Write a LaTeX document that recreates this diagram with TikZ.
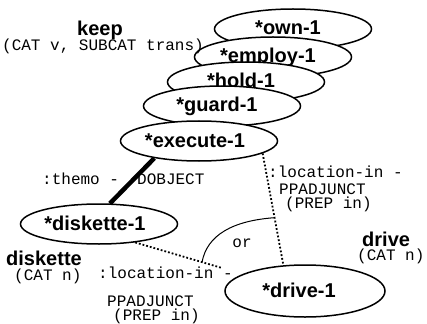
\documentclass[tikz,border=0pt]{standalone}
\usepackage{fontspec}
\setmainfont{Liberation Sans}
\newfontfamily\featfont{Liberation Mono}
\usetikzlibrary{shapes.geometric}
\tikzset{
  sense/.style={ellipse, draw, line width=1.5pt, fill=white,
    minimum width=157pt, minimum height=40pt, inner sep=0pt,
    font=\fontsize{20}{22}\selectfont\bfseries, text height=14pt, text depth=2pt},
  lex/.style={font=\fontsize{20}{22}\selectfont\bfseries, inner sep=0pt},
  feat/.style={font=\fontsize{16}{18}\selectfont\featfont, inner sep=0pt},
  dotlink/.style={dotted, line width=1.8pt},
  rolelink/.style={line width=4.5pt},
  orlink/.style={line width=1pt},
}
\begin{document}
\begin{tikzpicture}[x=1pt,y=-1pt]
\useasboundingbox (0,0) rectangle (427,323);
% stacked senses of "keep", back to front
\node[sense] (own) at (293,29) {*own-1\kern10pt};
\node[sense] (employ) at (273,57) {*employ-1\kern10pt};
\node[sense] (hold) at (246,82) {*hold-1\kern10pt};
\node[sense] (guard) at (222,106) {*guard-1\kern10pt};
\node[sense] (execute) at (199,141) {*execute-1\kern8pt};
\node[sense] (diskette) at (99,224) {*diskette-1\kern8pt};
\node[sense, minimum width=160pt, minimum height=52pt] (drive) at (305,291) {*drive-1\kern12pt};
% connectors
\draw[rolelink] (execute.201) -- (diskette.62);
\draw[dotlink] (execute.-11) -- (drive.130) coordinate[pos=0.575] (orB);
\coordinate (lowend) at (222,268);
\draw[dotlink] (diskette.-27) -- (lowend) coordinate[pos=0.77] (orA);
\draw[orlink] (orA) .. controls +(5,-27) and +(-42,3) .. (orB);
% labels
\node[lex, anchor=base] (keeplex) at (100,36) {keep};
\node[feat, anchor=base] (keepcat) at (103,51) {(CAT v, SUBCAT trans)};
\node[feat, anchor=base west] (theme) at (42,184) {:themo -};
\node[feat, anchor=base west] (dobj) at (137,184) {DOBJECT};
\node[feat, anchor=base west] (locA) at (268,177) {:location-in -};
\node[feat, anchor=base west] (ppA) at (279,194) {PPADJUNCT};
\node[feat, anchor=base west] (prepA) at (285,208) {(PREP in)};
\node[feat, anchor=base west] (locB) at (98,278) {:location-in -};
\node[feat, anchor=base west] (ppB) at (107,306) {PPADJUNCT};
\node[feat, anchor=base west] (prepB) at (113,320) {(PREP in)};
\node[lex, anchor=base west] (disklex) at (6,265) {diskette};
\node[feat, anchor=base west] (diskcat) at (14,280) {(CAT n)};
\node[lex, anchor=base west] (drivelex) at (362,246) {drive};
\node[feat, anchor=base west] (drivecat) at (357,260) {(CAT n)};
\node[feat, anchor=base] (ornode) at (242,247) {or};
\end{tikzpicture}
\end{document}
